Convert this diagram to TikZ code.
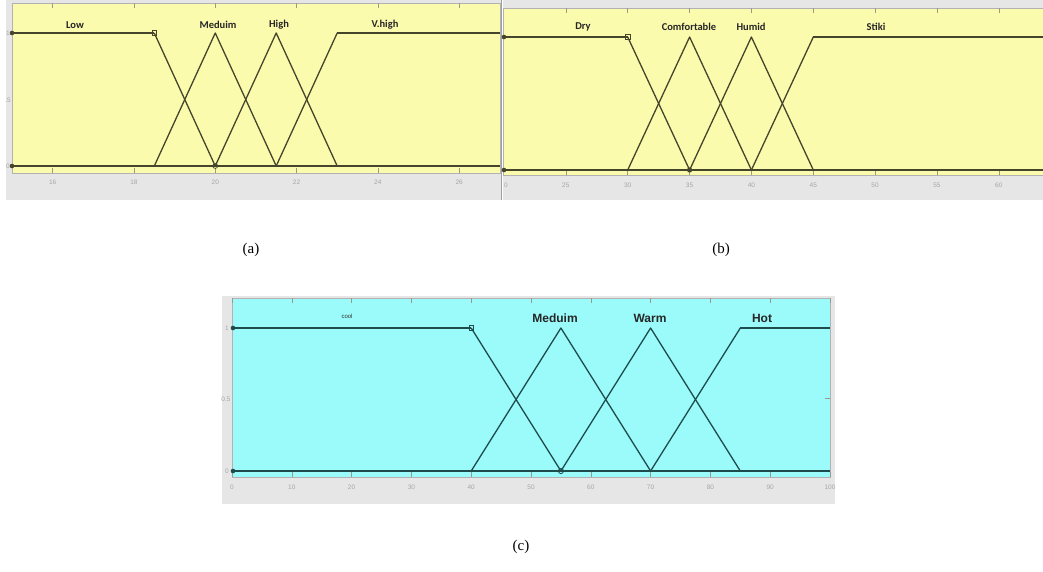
\documentclass[tikz,border=0pt]{standalone}
\usepackage{fontspec}
\setmainfont{Liberation Serif}
\newfontfamily\calfont{Carlito}
\newfontfamily\arifont{Liberation Sans}
\definecolor{yel}{HTML}{FBFBAE}
\definecolor{cya}{HTML}{9BFAFA}
\definecolor{bgg}{HTML}{E6E6E6}
\definecolor{olv}{HTML}{45452C}
\definecolor{tea}{HTML}{1E4C4C}
\definecolor{tkc}{HTML}{9A9A8A}
\tikzset{
  mfa/.style={olv, line width=1.3pt, line join=round},
  flata/.style={olv, line width=2.1pt},
  mfc/.style={tea, line width=1.3pt, line join=round},
  flatc/.style={tea, line width=2.1pt},
  ticklab/.style={font=\arifont\fontsize{6.5}{7}\selectfont, text=gray!70, inner sep=0pt},
  mflab/.style={font=\calfont\bfseries\fontsize{10.5}{12}\selectfont, text=black!85, inner sep=0pt},
  mflabc/.style={font=\arifont\bfseries\fontsize{12}{14}\selectfont, text=black!85, inner sep=0pt},
  caplab/.style={font=\fontsize{15}{18}\selectfont, inner sep=0pt},
  tickline/.style={tkc, line width=0.6pt},
  frameline/.style={gray!60, line width=0.6pt},
}
\begin{document}
\begin{tikzpicture}[x=1pt,y=-1pt]
\useasboundingbox (0,0) rectangle (1043,571);
\fill[white] (0,0) rectangle (1043,571);

% ---------------- panel (a) ----------------
\fill[bgg] (6,0) rectangle (501,200);
\fill[yel] (12,3) rectangle (500,173);
\draw[frameline] (12,3) rectangle (500,173);
\draw[gray!75, line width=1pt] (501,0) -- (501,200);
\foreach \v in {16,18,...,26} {
  \draw[tickline] ({12+(\v-15)*40.65},3) -- ++(0,5);
  \draw[tickline] ({12+(\v-15)*40.65},173) -- ++(0,-5);
  \node[ticklab] (ta\v) at ({12+(\v-15)*40.65},182) {\v};
}
\node[ticklab] (yaA) at (8,33) {1};
\node[ticklab] (yaB) at (8,100) {.5};
\node[ticklab] (yaC) at (8,166) {0};
\draw[flata] (12,166) -- (500,166);
\draw[flata] (12,33) -- (154.3,33);
\draw[mfa] (154.3,33) -- (215.25,166);
\draw[mfa] (154.3,166) -- (215.25,33) -- (276.2,166);
\draw[mfa] (215.25,166) -- (276.2,33) -- (337.2,166);
\draw[mfa] (276.2,166) -- (337.2,33);
\draw[flata] (337.2,33) -- (500,33);
\fill[olv] (12,33) circle (2.3);
\fill[olv] (12,166) circle (2.3);
\draw[olv, line width=0.7pt] (152,30.7) rectangle (156.6,35.3);
\draw[olv, line width=0.7pt] (215.25,166) circle (2.4);
\node[mflab] (low) at (75,25) {Low};
\node[mflab] (meda) at (218,25) {Meduim};
\node[mflab] (high) at (279,25) {High};
\node[mflab] (vhigh) at (385,25) {V.high};

% ---------------- panel (b) ----------------
\fill[bgg] (503,0) rectangle (1043,200);
\fill[yel] (503,8) rectangle (1043,175);
\draw[frameline] (503,8) -- (1043,8);
\draw[frameline] (503,175) -- (1043,175);
\draw[frameline] (503,8) -- (503,175);
\foreach \v in {25,30,...,60} {
  \draw[tickline] ({504+(\v-20)*12.37},8) -- ++(0,5);
  \draw[tickline] ({504+(\v-20)*12.37},175) -- ++(0,-5);
  \node[ticklab] (tb\v) at ({504+(\v-20)*12.37},185) {\v};
}
\node[ticklab] (tb20) at (506,185) {0};
\draw[flata] (503,170) -- (1043,170);
\draw[flata] (503,37) -- (627.7,37);
\draw[mfa] (627.7,37) -- (689.6,170);
\draw[mfa] (627.7,170) -- (689.6,37) -- (751.4,170);
\draw[mfa] (689.6,170) -- (751.4,37) -- (813.3,170);
\draw[mfa] (751.4,170) -- (813.3,37);
\draw[flata] (813.3,37) -- (1043,37);
\fill[olv] (504,37) circle (2.3);
\fill[olv] (504,170) circle (2.3);
\draw[olv, line width=0.7pt] (625.4,34.7) rectangle (630,39.3);
\fill[olv] (689.6,170) circle (2.6);
\node[mflab] (dry) at (583,27) {Dry};
\node[mflab] (comf) at (689,27) {Comfortable};
\node[mflab] (humid) at (751,27) {Humid};
\node[mflab] (stiki) at (876,27) {Stiki};

% ---------------- panel (c) ----------------
\fill[bgg] (222,296) rectangle (835,504);
\fill[cya] (232,298) rectangle (830,477);
\draw[frameline] (232,298) rectangle (830,477);
\foreach \v in {0,10,...,100} {
  \draw[tickline] ({232+\v*5.98},298) -- ++(0,5);
  \draw[tickline] ({232+\v*5.98},477) -- ++(0,-5);
  \node[ticklab] (tc\v) at ({232+\v*5.98},487) {\v};
}
\draw[tickline] (830,398.5) -- ++(-5,0);
\node[ticklab] (ycA) at (227,328) {1};
\node[ticklab] (ycB) at (226,399) {0.5};
\node[ticklab] (ycC) at (227,471) {0};
\draw[flatc] (232,471) -- (830,471);
\draw[flatc] (232,328) -- (471.2,328);
\draw[mfc] (471.2,328) -- (560.9,471);
\draw[mfc] (471.2,471) -- (560.9,328) -- (650.6,471);
\draw[mfc] (560.9,471) -- (650.6,328) -- (740.3,471);
\draw[mfc] (650.6,471) -- (740.3,328);
\draw[flatc] (740.3,328) -- (830,328);
\fill[tea] (233,328) circle (2.3);
\fill[tea] (233,471) circle (2.3);
\draw[tea, line width=0.7pt] (468.9,325.7) rectangle (473.5,330.3);
\draw[tea, line width=0.8pt] (560.9,471) circle (2.6);
\node[font=\arifont\fontsize{6}{7}\selectfont, text=black!80, inner sep=0pt] (cool) at (347,316) {cool};
\node[mflabc] (medc) at (555,318) {Meduim};
\node[mflabc] (warm) at (650,318) {Warm};
\node[mflabc] (hot) at (762,318) {Hot};

% ---------------- captions ----------------
\node[caplab] (capa) at (251,250) {(a)};
\node[caplab] (capb) at (721,250) {(b)};
\node[caplab] (capc) at (521,547) {(c)};
\end{tikzpicture}
\end{document}
